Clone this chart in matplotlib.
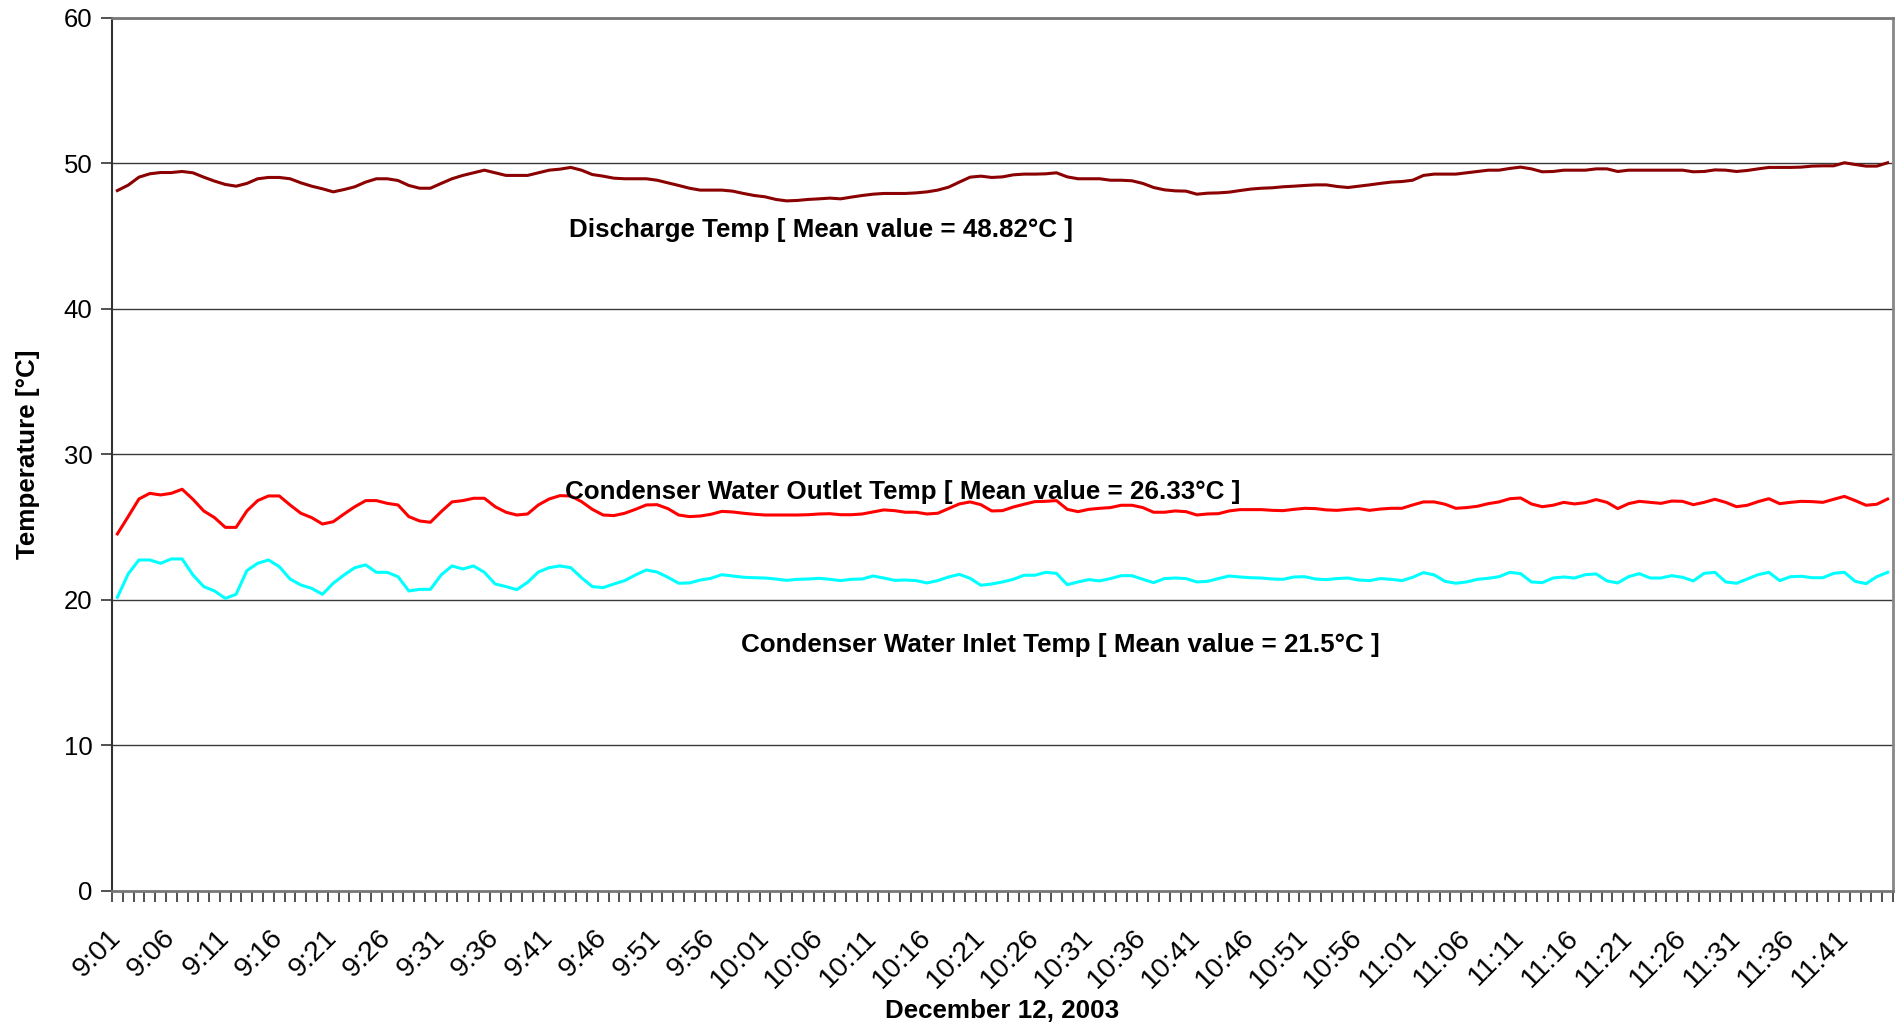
import numpy as np
import pandas as pd
import matplotlib
matplotlib.use("Agg")
import matplotlib.pyplot as plt

plt.rcParams['font.family'] = ['Liberation Sans', 'DejaVu Sans']

# one reading per minute, 9:01 .. 11:45
times = pd.date_range('2003-12-12 09:01', periods=165, freq='min')
time_labels = [f"{t.hour}:{t.minute:02d}" for t in times]

discharge = [
    48.14, 48.51, 49.06, 49.29, 49.38, 49.38, 49.45, 49.36, 49.06, 48.79, 48.56, 48.44, 48.63, 48.95, 49.04,
    49.04, 48.95, 48.67, 48.44, 48.26, 48.05, 48.21, 48.40, 48.72, 48.95, 48.95, 48.83, 48.49, 48.30, 48.30,
    48.63, 48.95, 49.18, 49.36, 49.54, 49.36, 49.18, 49.18, 49.18, 49.36, 49.54, 49.61, 49.73, 49.54, 49.24,
    49.13, 48.99, 48.95, 48.95, 48.95, 48.85, 48.67, 48.49, 48.30, 48.17, 48.17, 48.17, 48.10, 47.94, 47.80,
    47.71, 47.53, 47.43, 47.46, 47.53, 47.57, 47.62, 47.57, 47.69, 47.80, 47.89, 47.94, 47.94, 47.94, 47.98,
    48.05, 48.17, 48.37, 48.72, 49.06, 49.13, 49.04, 49.08, 49.22, 49.27, 49.27, 49.29, 49.36, 49.08, 48.95,
    48.95, 48.95, 48.85, 48.85, 48.81, 48.63, 48.35, 48.19, 48.12, 48.10, 47.89,
    47.96, 47.98, 48.03, 48.14, 48.24, 48.30, 48.33, 48.40, 48.44, 48.49, 48.53, 48.53, 48.42, 48.35, 48.44,
    48.53, 48.63, 48.72, 48.76, 48.85, 49.18, 49.27, 49.27, 49.27, 49.36, 49.45, 49.54, 49.54, 49.66, 49.75,
    49.63, 49.43, 49.45, 49.54, 49.54, 49.54, 49.63, 49.63, 49.45, 49.54, 49.54, 49.54, 49.54, 49.54, 49.54,
    49.43, 49.45, 49.56, 49.54, 49.45, 49.52, 49.63, 49.73, 49.73, 49.73, 49.75, 49.82, 49.84, 49.84, 50.05,
    49.93, 49.82, 49.82, 50.05]

outlet = [
    24.54, 25.73, 26.94, 27.33, 27.22, 27.33, 27.61, 26.92, 26.12, 25.66, 24.99, 24.99, 26.12, 26.83, 27.15,
    27.15, 26.53, 25.96, 25.66, 25.22, 25.38, 25.91, 26.41, 26.83, 26.83, 26.64, 26.53, 25.73, 25.43, 25.34,
    26.07, 26.74, 26.83, 26.99, 26.99, 26.41, 26.03, 25.84, 25.91, 26.53, 26.94, 27.17, 27.15, 26.76, 26.23,
    25.84, 25.80, 25.96, 26.23, 26.53, 26.55, 26.28, 25.84, 25.73, 25.77, 25.89, 26.09, 26.05, 25.96, 25.89,
    25.84, 25.84, 25.84, 25.84, 25.86, 25.91, 25.93, 25.86, 25.86, 25.91, 26.05, 26.19, 26.14, 26.03, 26.03,
    25.91, 25.96, 26.28, 26.60, 26.74, 26.55, 26.12, 26.14, 26.39, 26.58, 26.76, 26.78, 26.83, 26.23, 26.07,
    26.23, 26.30, 26.35, 26.51, 26.51, 26.35, 26.03, 26.03, 26.12, 26.07, 25.84,
    25.91, 25.93, 26.12, 26.21, 26.21, 26.21, 26.16, 26.14, 26.23, 26.30, 26.28, 26.19, 26.16, 26.23, 26.28,
    26.16, 26.25, 26.30, 26.30, 26.53, 26.74, 26.74, 26.58, 26.30, 26.35, 26.44, 26.62, 26.74, 26.96, 27.01,
    26.60, 26.41, 26.51, 26.71, 26.60, 26.69, 26.90, 26.71, 26.28, 26.62, 26.78, 26.71, 26.64, 26.80, 26.78,
    26.55, 26.71, 26.92, 26.71, 26.41, 26.51, 26.76, 26.96, 26.62, 26.71, 26.78, 26.76, 26.71, 26.92, 27.12,
    26.83, 26.51, 26.58, 26.94]

inlet = [
    20.18, 21.79, 22.75, 22.75, 22.52, 22.82, 22.82, 21.72, 20.92, 20.62, 20.11, 20.39, 22.02, 22.52, 22.75,
    22.29, 21.44, 21.03, 20.80, 20.39, 21.15, 21.72, 22.22, 22.41, 21.90, 21.90, 21.60, 20.62, 20.73, 20.73,
    21.72, 22.34, 22.13, 22.34, 21.90, 21.10, 20.92, 20.71, 21.21, 21.92, 22.22, 22.34, 22.22, 21.53, 20.92,
    20.85, 21.10, 21.33, 21.72, 22.06, 21.92, 21.56, 21.15, 21.17, 21.37, 21.49, 21.74, 21.65, 21.56, 21.53,
    21.51, 21.44, 21.35, 21.42, 21.44, 21.49, 21.42, 21.33, 21.42, 21.44, 21.65, 21.51, 21.35, 21.37, 21.33,
    21.17, 21.33, 21.58, 21.76, 21.49, 21.01, 21.10, 21.24, 21.42, 21.70, 21.70, 21.90, 21.83, 21.05, 21.24,
    21.40, 21.31, 21.47, 21.67, 21.67, 21.42, 21.19, 21.47, 21.51, 21.47, 21.24,
    21.28, 21.47, 21.65, 21.58, 21.53, 21.51, 21.44, 21.42, 21.58, 21.60, 21.44, 21.40, 21.47, 21.51, 21.37,
    21.33, 21.47, 21.42, 21.33, 21.56, 21.88, 21.72, 21.28, 21.15, 21.24, 21.42, 21.49, 21.60, 21.90, 21.81,
    21.24, 21.19, 21.51, 21.58, 21.51, 21.74, 21.79, 21.31, 21.17, 21.60, 21.81, 21.51, 21.51, 21.67, 21.56,
    21.31, 21.83, 21.90, 21.24, 21.15, 21.44, 21.74, 21.90, 21.33, 21.60, 21.63, 21.53, 21.53, 21.83, 21.90,
    21.28, 21.12, 21.60, 21.90]

discharge_note = "Discharge Temp [ Mean value = 48.82°C ]"
outlet_note = "Condenser Water Outlet Temp [ Mean value = 26.33°C ]"
inlet_note = "Condenser Water Inlet Temp [ Mean value = 21.5°C ]"


def temperatureChart():
    fig = plt.figure(figsize=(19.01, 10.28), dpi=100)
    ax = fig.add_axes([0.0589, 0.1333, 0.9369, 0.8492])

    n = len(time_labels)
    ax.set_xlim(-0.5, n - 0.5)
    ax.set_ylim(0, 60)

    for y in range(10, 70, 10):
        ax.axhline(y, color='#3a3a3a', lw=1.0, zorder=1)

    ax.plot(np.arange(len(discharge)), discharge, color='#8B0000', lw=2.2, zorder=3)
    ax.plot(np.arange(len(outlet)), outlet, color='#FF0000', lw=2.2, zorder=3)
    ax.plot(np.arange(len(inlet)), inlet, color='#00FFFF', lw=2.2, zorder=3)

    ax.text(41.8, 45.4, discharge_note, fontsize=18.7, fontweight='bold', va='center', zorder=4)
    ax.text(41.5, 27.4, outlet_note, fontsize=18.7, fontweight='bold', va='center', zorder=4)
    ax.text(57.8, 16.9, inlet_note, fontsize=18.7, fontweight='bold', va='center', zorder=4)

    # y axis
    ax.set_yticks(range(0, 70, 10))
    ax.tick_params(axis='y', length=8, width=1.2, color='#333333', labelsize=18.5, pad=6)
    ax.set_ylabel('Temperature [°C]', fontsize=18.7, fontweight='bold', va='center')
    ax.yaxis.set_label_coords(-0.047, 0.5)

    # x axis: tick marks between categories, labels every 5 minutes
    ax.set_xticks(np.arange(0, n, 5))
    ax.set_xticklabels(time_labels[::5], rotation=45, ha='right', va='center',
                       rotation_mode='anchor', fontsize=20.5)
    ax.set_xticks(np.arange(-0.5, n, 1), minor=True)
    ax.tick_params(axis='x', which='major', length=0, pad=31)
    ax.tick_params(axis='x', which='minor', length=8, width=1.2, color='#333333')
    ax.set_xlabel('December 12, 2003', fontsize=18.7, fontweight='bold', va='center')
    ax.xaxis.set_label_coords(0.5, -0.138)

    ax.spines['left'].set_color('#333333')
    ax.spines['left'].set_linewidth(1.5)
    ax.spines['bottom'].set_color('#777777')
    ax.spines['bottom'].set_linewidth(2)
    ax.spines['right'].set_color('#888888')
    ax.spines['right'].set_linewidth(2)
    ax.spines['top'].set_color('#777777')
    ax.spines['top'].set_linewidth(2)

    fig.savefig('out.png', dpi=100)


def main():
    temperatureChart()


if __name__ == "__main__":
    main()
